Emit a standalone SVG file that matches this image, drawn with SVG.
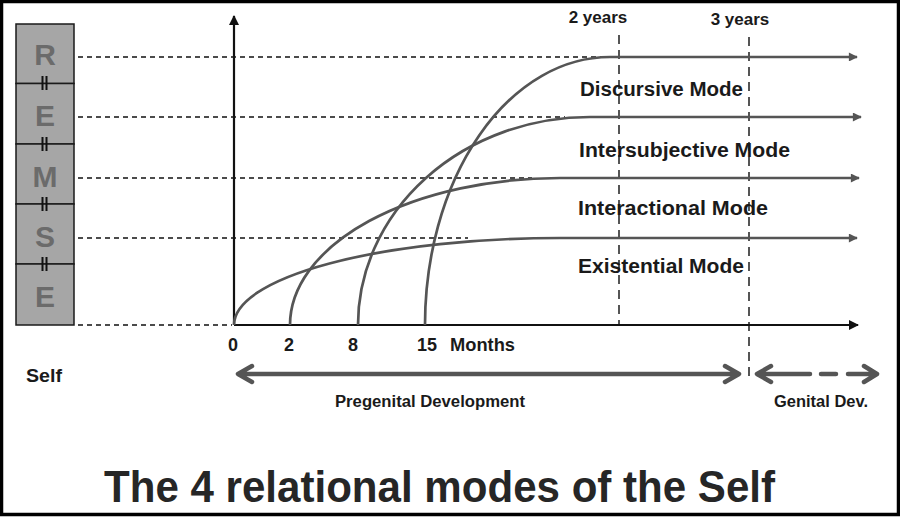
<svg xmlns="http://www.w3.org/2000/svg" width="900" height="517" viewBox="0 0 900 517">
<defs>
<style>
text{font-family:"Liberation Sans",Arial,sans-serif;font-weight:bold;fill:#1a1a1a}
.box{fill:#a6a6a6;stroke:#1a1a1a;stroke-width:1.5}
.letter{font-size:30px;fill:#6b6b6b;text-anchor:middle}
.tick{stroke:#111;stroke-width:2}
.guide{stroke:#111;stroke-width:1.4;stroke-dasharray:5 4;fill:none}
.vdash{stroke:#555;stroke-width:2;stroke-dasharray:9 6;fill:none}
.curve{stroke:#555;stroke-width:2.7;fill:none}
.axis{stroke:#111;stroke-width:2.2;fill:none}
.mode{font-size:20px}
.num{font-size:18px;text-anchor:middle}
.chev{stroke:#555;stroke-width:4.5;fill:none;stroke-linecap:round;stroke-linejoin:round}
</style>
<marker id="ga" viewBox="0 0 10 10" refX="9" refY="5" markerWidth="10" markerHeight="9" markerUnits="userSpaceOnUse" orient="auto"><path d="M0,0 L10,5 L0,10 Z" fill="#555"/></marker>
<marker id="ka" viewBox="0 0 10 10" refX="9" refY="5" markerWidth="11" markerHeight="10" markerUnits="userSpaceOnUse" orient="auto"><path d="M0,0 L10,5 L0,10 Z" fill="#111"/></marker>
</defs>
<rect x="1.5" y="1.5" width="897" height="513" fill="#fff" stroke="#000" stroke-width="3.5"/>

<g id="self-column">
<rect class="box" x="16" y="24" width="58" height="59.5"/>
<rect class="box" x="16" y="83.5" width="58" height="60.5"/>
<rect class="box" x="16" y="144" width="58" height="60"/>
<rect class="box" x="16" y="204" width="58" height="60"/>
<rect class="box" x="16" y="264" width="58" height="61"/>
<text class="letter" x="45" y="65">R</text>
<text class="letter" x="45" y="126">E</text>
<text class="letter" x="45" y="187">M</text>
<text class="letter" x="45" y="247">S</text>
<text class="letter" x="45" y="307">E</text>
<path class="tick" d="M42.5,76v14M46.5,76v14M42.5,137v14M46.5,137v14M42.5,197v14M46.5,197v14M42.5,257v14M46.5,257v14"/>
</g>

<g id="connectors">
<path class="guide" d="M78,57H620M78,117H565M78,178H532M78,238H468M78,325H232"/>
<path class="vdash" d="M619,35V325M749,37V380"/>
<path class="axis" d="M234,325V16" marker-end="url(#ka)"/>
<path class="axis" d="M234,325H858" marker-end="url(#ka)"/>
<path class="curve" d="M234,325 A326,87 0 0 1 560,238 H857" marker-end="url(#ga)"/>
<path class="curve" d="M290,325 A270,147 0 0 1 560,178 H859" marker-end="url(#ga)"/>
<path class="curve" d="M358,325 A232,208 0 0 1 590,117 H861" marker-end="url(#ga)"/>
<path class="curve" d="M425,325 A185,268 0 0 1 610,57 H857" marker-end="url(#ga)"/>
<path class="chev" d="M239,374H738M252,366L238,374L252,382M725,366L739,374L725,382"/>
<path class="chev" d="M760,374H810M821,374H836M848,374H875M771,366L757,374L771,382M864,366L877,374L864,382"/>
</g>

<g id="labels">
<text x="598" y="23" font-size="17" text-anchor="middle">2 years</text>
<text x="740" y="25" font-size="17" text-anchor="middle">3 years</text>
<text class="mode" x="580" y="96" textLength="163" lengthAdjust="spacingAndGlyphs">Discursive Mode</text>
<text class="mode" x="579" y="157" textLength="211" lengthAdjust="spacingAndGlyphs">Intersubjective Mode</text>
<text class="mode" x="578" y="215" textLength="190" lengthAdjust="spacingAndGlyphs">Interactional Mode</text>
<text class="mode" x="578" y="273" textLength="166" lengthAdjust="spacingAndGlyphs">Existential Mode</text>
<text class="num" x="233" y="351">0</text>
<text class="num" x="289" y="351">2</text>
<text class="num" x="353" y="351">8</text>
<text class="num" x="427" y="351">15</text>
<text x="450" y="351" font-size="18" textLength="65" lengthAdjust="spacingAndGlyphs">Months</text>
<text x="26" y="382" font-size="19" textLength="36" lengthAdjust="spacingAndGlyphs">Self</text>
<text x="335" y="407" font-size="16" textLength="190" lengthAdjust="spacingAndGlyphs">Pregenital Development</text>
<text x="774" y="407" font-size="16" textLength="94" lengthAdjust="spacingAndGlyphs">Genital Dev.</text>
<text x="104" y="502" font-size="45" style="fill:#262626" textLength="671" lengthAdjust="spacingAndGlyphs">The 4 relational modes of the Self</text>
</g>
</svg>
